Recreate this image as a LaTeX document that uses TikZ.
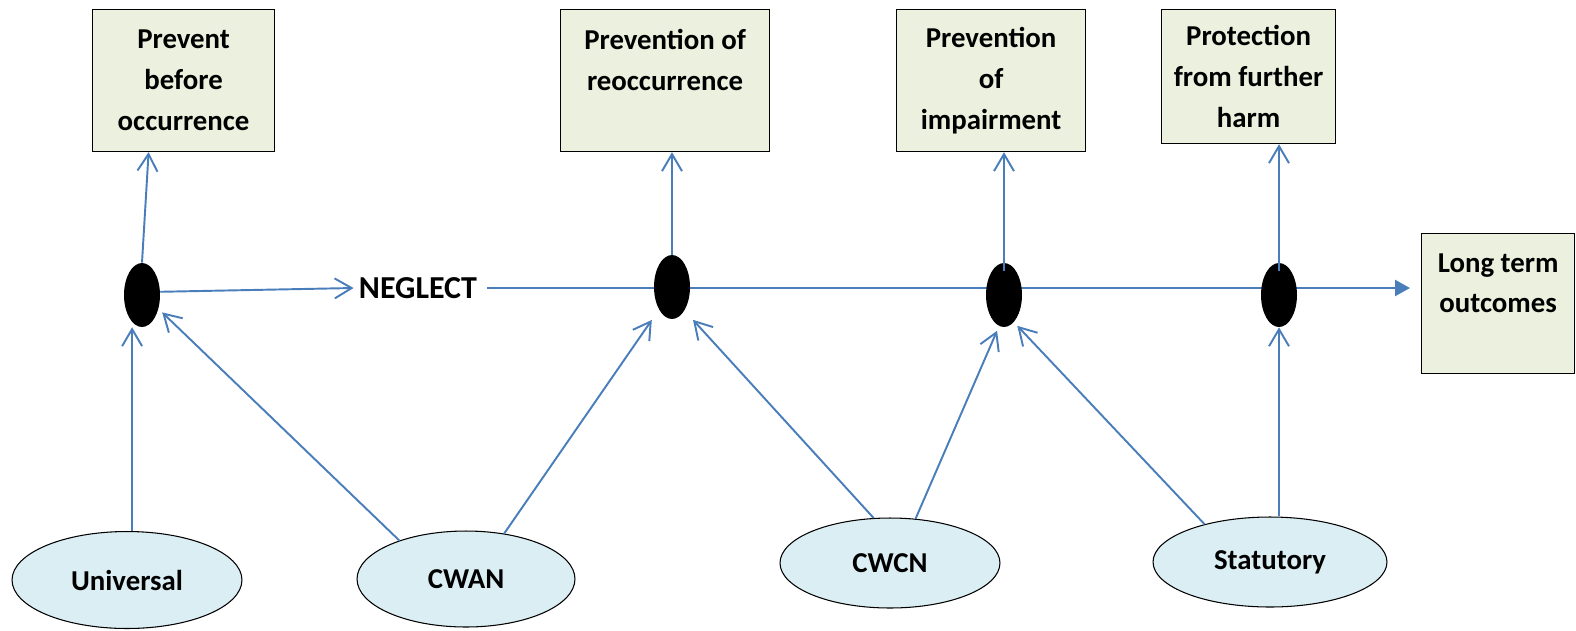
\documentclass[tikz,border=0pt]{standalone}
\usepackage{fontspec}
\setmainfont{Carlito}
\usetikzlibrary{arrows.meta,shapes.geometric,backgrounds}
\definecolor{linkblue}{HTML}{4A7EBB}
\definecolor{goalfill}{HTML}{EBF1DE}
\definecolor{groupfill}{HTML}{DBEEF4}

\begin{document}
\begin{tikzpicture}[x=0.02cm, y=-0.02cm,
    every node/.style={font=\bfseries\fontsize{16.4}{23.3}\selectfont},
    goal/.style={draw=black, line width=0.7pt, fill=goalfill, align=center,
        anchor=north west, minimum height=2.84cm, inner sep=0pt},
    group/.style={ellipse, draw=black, line width=0.6pt, fill=groupfill, inner sep=0pt},
    dot/.style={ellipse, fill=black, minimum width=0.72cm, minimum height=1.28cm, inner sep=0pt},
    link/.style={draw=linkblue, line width=1.1pt, -{Straight Barb[length=0.34cm, width=0.4cm]}},
    feed/.style={link, shorten >=0.1cm}]
    \useasboundingbox (0,0) rectangle (1576,630);

    % Goals
    \node[goal, minimum width=3.64cm] (prevent) at (92,9) {Prevent\\before\\occurrence};
    \node[goal, minimum width=4.18cm] (reoccur) at (560,9) {Prevention of\\reoccurrence\\~};
    \node[goal, minimum width=3.78cm] (impair) at (896,9) {Prevention\\of\\impairment};
    \node[goal, minimum width=3.48cm, minimum height=2.68cm] (protect) at (1161,9) {Protection\\from further\\harm};
    \node[goal, minimum width=3.06cm, minimum height=2.8cm] (outcome) at (1421,233) {Long term\\outcomes\\~};

    % Points on the neglect line
    \node[dot] (d1) at (142,295) {};
    \node[dot] (d2) at (672,287) {};
    \node[dot] (d3) at (1004,295) {};
    \node[dot] (d4) at (1279,295) {};
    \node[inner xsep=0.1cm, font=\bfseries\fontsize{18.2}{23.3}\selectfont] (neglect) at (418,288) {NEGLECT};

    % Services
    \node[group, minimum width=4.6cm, minimum height=1.94cm] (universal) at (127,580) {Universal};
    \node[group, minimum width=4.36cm, minimum height=1.92cm] (cwan) at (466,579) {CWAN\hspace{1.08cm}};
    \node[group, minimum width=4.4cm, minimum height=1.8cm] (cwcn) at (890,563) {CWCN\hspace{1.36cm}};
    \node[group, minimum width=4.68cm, minimum height=1.8cm] (statutory) at (1270,562) {Statutory};

    % Neglect line
    \begin{scope}[on background layer]
        \draw[linkblue, line width=1.3pt, -{Triangle[length=0.3cm, width=0.32cm]}, shorten <=0.1cm, shorten >=0.22cm]
            (neglect.east) -- (neglect.east -| outcome.west);
    \end{scope}
    \draw[link] (d1.10) -- (neglect.west);

    % Up to the goals
    \draw[link] (d1.north) -- ([xshift=-0.7cm]prevent.south);
    \draw[link] (d2.north) -- (d2.north |- reoccur.south);
    \draw[link] ([yshift=-0.16cm]d3.north) -- (d3.north |- impair.south);
    \draw[link] ([yshift=-0.16cm]d4.north) -- (d4.north |- protect.south);

    % From the services
    \draw[feed] (d1.250 |- universal.north) -- (d1.250);
    \draw[feed] (cwan.150) -- (d1.-40);
    \draw[feed, shorten >=0.25cm] (cwan.50) -- (d2.240);
    \draw[feed, shorten >=0.25cm] (cwcn.110) -- (d2.-62);
    \draw[feed] (cwcn.60) -- (d3.261);
    \draw[feed] (statutory.150) -- (d3.-70);
    \draw[link] (d4.south |- statutory.north) -- (d4.south);
\end{tikzpicture}
\end{document}
